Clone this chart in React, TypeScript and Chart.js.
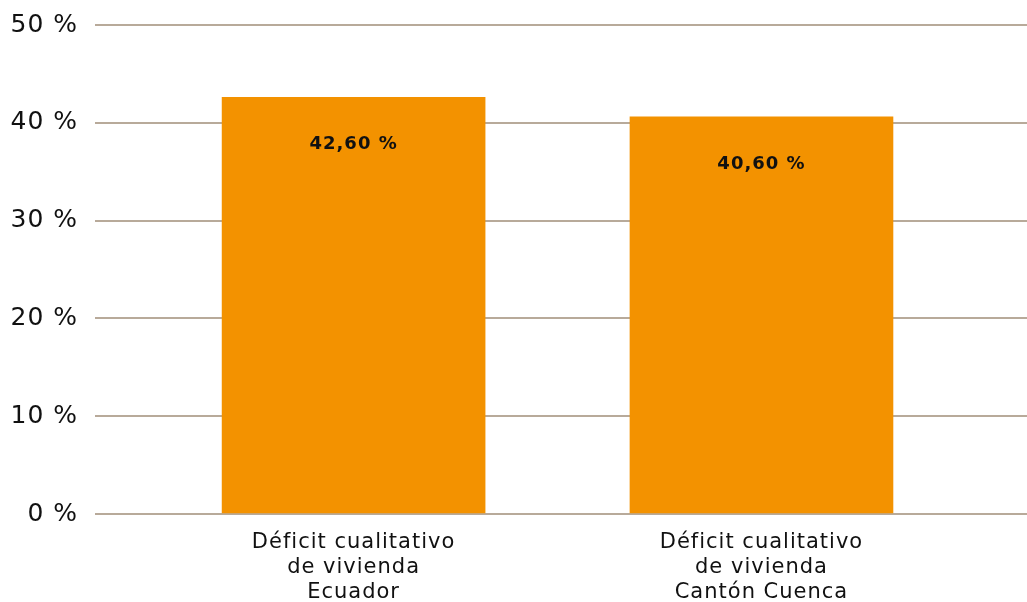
import React, { useEffect, useRef } from "react";
import { Chart, registerables } from "chart.js";

Chart.register(...registerables);

const categories: string[][] = [
  ["Déficit cualitativo", "de vivienda", "Ecuador"],
  ["Déficit cualitativo", "de vivienda", "Cantón Cuenca"],
];
const values: number[] = [42.6, 40.6];
const valueLabels: string[] = ["42,60 %", "40,60 %"];
const yTicks: number[] = [0, 10, 20, 30, 40, 50];

const FONT = "'DejaVu Sans', sans-serif";

const spacingPlugin = {
  id: "spacing",
  beforeDraw(chart: any) {
    chart.ctx.letterSpacing = "1px";
  },
  afterDraw(chart: any) {
    chart.ctx.letterSpacing = "0px";
  },
};

const labelPlugin = {
  id: "barLabels",
  afterDatasetsDraw(chart: any) {
    const ctx = chart.ctx;
    const meta = chart.getDatasetMeta(0);
    ctx.save();
    ctx.font = `bold 18px ${FONT}`;
    ctx.fillStyle = "#111111";
    ctx.textAlign = "center";
    ctx.textBaseline = "middle";
    meta.data.forEach((bar: any, i: number) => {
      ctx.fillText(valueLabels[i], bar.x, bar.y + 47);
    });
    ctx.restore();
  },
};

export default function App() {
  const ref = useRef<HTMLCanvasElement>(null);
  useEffect(() => {
    const chart = new Chart(ref.current!, {
      type: "bar",
      data: {
        datasets: [
          {
            data: values.map((v, i) => ({ x: i, y: v })),
            backgroundColor: "#F39200",
            barThickness: 263,
          } as any,
        ],
      },
      options: {
        responsive: false,
        animation: false,
        layout: { autoPadding: false, padding: { top: 25, left: 0, right: 0, bottom: 0 } },
        plugins: { legend: { display: false }, tooltip: { enabled: false } },
        scales: {
          x: {
            type: "linear",
            offset: false,
            min: -0.634,
            max: 1.651,
            grid: { display: false, offset: false },
            border: { display: false },
            afterBuildTicks: (scale: any) => {
              scale.ticks = categories.map((_, i) => ({ value: i }));
            },
            afterFit: (scale: any) => {
              scale.height = 88;
            },
            ticks: {
              autoSkip: false,
              maxRotation: 0,
              padding: 8,
              color: "#111111",
              font: { family: FONT, size: 21, lineHeight: 1.2 },
              callback: (v: any) => categories[Number(v)] ?? "",
            },
          },
          y: {
            min: 0,
            max: 50,
            afterBuildTicks: (scale: any) => {
              scale.ticks = yTicks.map((v) => ({ value: v }));
            },
            afterFit: (scale: any) => {
              scale.width = 95;
            },
            grid: {
              color: "#b8aa9a",
              lineWidth: 2,
              drawTicks: true,
              tickLength: 14,
              tickColor: "rgba(0,0,0,0)",
            },
            border: { display: false },
            ticks: {
              padding: 3,
              color: "#111111",
              font: { family: FONT, size: 25 },
              callback: (v: any) => `${v} %`,
            },
          },
        },
      },
      plugins: [spacingPlugin, labelPlugin],
    });
    return () => chart.destroy();
  }, []);
  return (
    <div style={{ position: "fixed", left: 0, top: 0, width: 1027, height: 602, background: "#fff" }}>
      <canvas ref={ref} width={1027} height={602} />
    </div>
  );
}
